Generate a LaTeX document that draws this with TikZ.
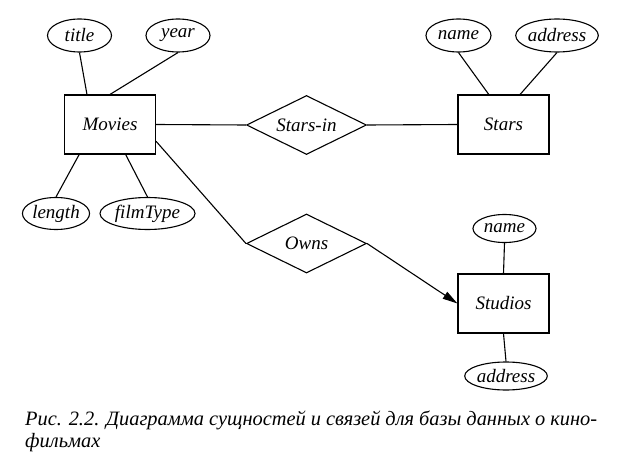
\documentclass[tikz,border=0pt]{standalone}
\usepackage{fontspec}
\setmainfont{Liberation Serif}
\usetikzlibrary{shapes.geometric,arrows.meta,calc}
\begin{document}
\begin{tikzpicture}[x=1pt,y=-1pt,
  every node/.style={font=\fontsize{19}{22}\selectfont\itshape},
  line/.style={line width=1.1pt},
  ent/.style={draw,line width=1.1pt,rectangle,minimum width=91pt,minimum height=59pt,inner sep=0pt},
  attr/.style={draw,line width=1.1pt,ellipse,inner sep=0pt},
  rel/.style={draw,line width=1.1pt,diamond,shape aspect=2,minimum width=120pt,minimum height=59pt,inner sep=0pt}]
\useasboundingbox (0,0) rectangle (634,465);
% entities
\node[ent] (movies) at (110,124.5) {Movies};
\node[ent] (stars) at (503.5,124.5) {Stars};
\node[ent] (studios) at (503.5,303.5) {Studios};
% relationships
\node[rel] (starsin) at (306.5,125) {Stars-in};
\node[rel] (owns) at (306.5,243.5) {Owns};
% attributes
\node[attr,minimum width=64pt,minimum height=33pt] (title) at (79.5,35.5) {title};
\node[attr,minimum width=64pt,minimum height=33pt] (year) at (178,35.5) {year};
\node[attr,minimum width=64pt,minimum height=32pt] (length) at (56,213.5) {length};
\node[attr,minimum width=95pt,minimum height=32pt] (filmtype) at (147.5,213.5) {filmType};
\node[attr,minimum width=65pt,minimum height=33pt] (sname) at (458.5,35.5) {name};
\node[attr,minimum width=78pt,minimum height=33pt] (saddr) at (557,35.5) {address};
\node[attr,minimum width=63pt,minimum height=28pt] (stname) at (504.5,228.5) {name};
\node[attr,minimum width=80pt,minimum height=28pt] (staddr) at (506,376) {address};
% attribute lines
\draw[line] (title.south) -- ($(movies.north west)!0.25!(movies.north east)$);
\draw[line] (year.south) -- (movies.north);
\draw[line] ($(movies.south west)!0.165!(movies.south east)$) -- (length.north);
\draw[line] ($(movies.south west)!0.67!(movies.south east)$) -- (filmtype.north);
\draw[line] (sname.south) -- ($(stars.north west)!0.34!(stars.north east)$);
\draw[line] (saddr.south) -- ($(stars.north west)!0.68!(stars.north east)$);
\draw[line] (stname.south) -- (studios.north);
\draw[line] (studios.south) -- (staddr.north);
% relationship lines
\draw[line] (movies.east) -- (starsin.west);
\draw[line] (starsin.east) -- (stars.west);
\draw[line] (movies.-20) -- (owns.west);
\draw[line,-{Triangle[length=15pt,width=8pt]}] (owns.east) -- (studios.west);
% caption
\node[anchor=north west,inner sep=0pt,text width=572pt,align=justify,
  font=\fontsize{20.4}{21.5}\selectfont\itshape] (cap) at (25,411)
  {Рис. 2.2. Диаграмма сущностей и связей для базы данных о кино-\linebreak фильмах};
\end{tikzpicture}
\end{document}
